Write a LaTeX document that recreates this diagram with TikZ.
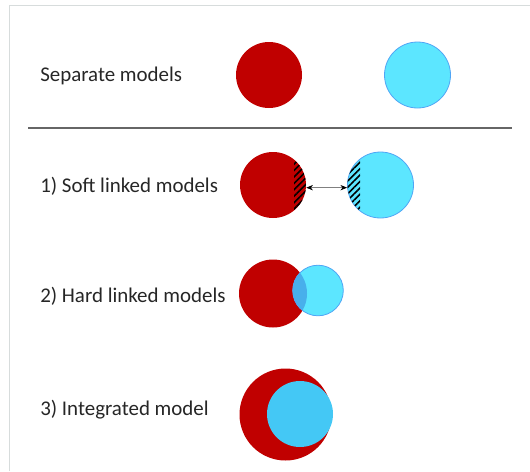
\documentclass[tikz,border=0pt]{standalone}
\usepackage{fontspec}
\setmainfont{Carlito}
\usepackage{tikz}
\usetikzlibrary{arrows.meta,patterns.meta}

\definecolor{modelred}{RGB}{192,0,0}
\definecolor{modelcyan}{RGB}{92,230,255}
\definecolor{modelline}{RGB}{80,165,245}
\definecolor{overlapblue}{RGB}{72,175,235}
\definecolor{intblue}{RGB}{68,200,245}
\definecolor{framegray}{RGB}{215,220,220}

\tikzset{
  lbl/.style={anchor=west,inner sep=0pt,font=\fontsize{15.7}{19}\selectfont,text=black!85},
  redm/.style={circle,fill=modelred,inner sep=0pt},
  bluem/.style={circle,fill=modelcyan,draw=modelline,line width=0.6pt,inner sep=0pt},
  hatch/.style={pattern={Lines[angle=45,distance=3.4pt,line width=1.2pt]}}
}

\begin{document}
\begin{tikzpicture}[x=0.75pt,y=-0.75pt]
  \useasboundingbox (0,0) rectangle (530,471);
  \draw[framegray,line width=1.2pt] (9.5,471)--(9.5,5.5)--(530,5.5);

  % separate models
  \node[lbl] (sep) at (40,76) {Separate models};
  \node[redm,minimum size=49.5pt] (sepred) at (269,75) {};
  \node[bluem,minimum size=49.5pt] (sepblue) at (417.5,75) {};
  \draw[black!60,line width=0.8pt] (28,128)--(512,128);

  % 1) soft linked
  \node[lbl] (soft) at (40,186) {1) Soft linked models};
  \node[redm,minimum size=49.5pt] (softred) at (273,185) {};
  \node[bluem,minimum size=49.5pt] (softblue) at (380.5,185) {};
  \begin{scope}
    \clip (273,185) circle (33);
    \fill[hatch] (294,145) rectangle (310,225);
  \end{scope}
  \begin{scope}
    \clip (380.5,185) circle (33);
    \fill[hatch] (345,145) rectangle (360,225);
  \end{scope}
  \draw[gray,line width=0.5pt,{Stealth[black,length=5pt,width=4pt]}-{Stealth[black,length=5pt,width=4pt]}]
    ([yshift=-2pt]softred.east) -- ([yshift=-2pt]softblue.west);

  % 2) hard linked
  \node[lbl] (hard) at (40,296) {2) Hard linked models};
  \node[redm,minimum size=51pt] (hardred) at (273,293.5) {};
  \node[circle,fill=modelcyan,inner sep=0pt,minimum size=38pt] (hardblue) at (318,290.5) {};
  \begin{scope}
    \clip (273,293.5) circle (34);
    \fill[overlapblue] (318,290.5) circle (25.3);
  \end{scope}
  \draw[modelline,line width=0.6pt] (hardblue.center) circle (25.3);

  % 3) integrated
  \node[lbl] (integ) at (40,410) {3) Integrated model};
  \node[redm,minimum size=69pt] (integred) at (285.5,414.5) {};
  \node[circle,fill=intblue,inner sep=0pt,minimum size=49.5pt] (integblue) at (300,414) {};
\end{tikzpicture}
\end{document}
